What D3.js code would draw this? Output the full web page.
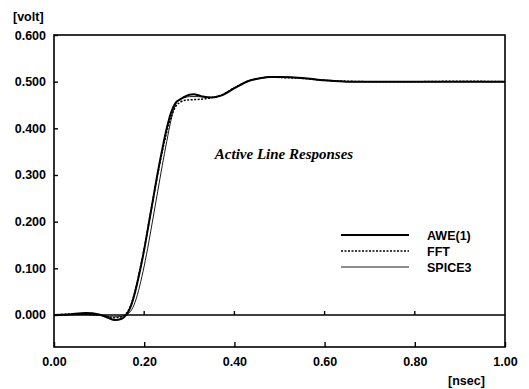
<!DOCTYPE html>
<html>
<head>
<meta charset="utf-8">
<script src="https://cdn.jsdelivr.net/npm/d3@7"></script>
<style>
  body { margin: 0; background: #fff; }
  text { font-family: "Liberation Sans", Arial, sans-serif; font-weight: bold; font-size: 12.5px; fill: #000; }
</style>
</head>
<body>
<svg id="chart" width="529" height="389"></svg>
<script>
// time in nsec, voltage in volt
const awe_t = [0, 0.03, 0.07, 0.10, 0.12, 0.135, 0.15, 0.16, 0.17, 0.18, 0.19, 0.20, 0.21, 0.22, 0.23, 0.24, 0.25, 0.26, 0.27, 0.28, 0.29, 0.30, 0.31, 0.32, 0.33, 0.35, 0.37, 0.40, 0.43, 0.46, 0.48, 0.50, 0.55, 0.60, 0.65, 0.70, 0.80, 0.90, 1.00];
const awe_v = [0, 0.001, 0.004, 0.001, -0.006, -0.011, -0.008, 0.000, 0.018, 0.050, 0.092, 0.140, 0.195, 0.250, 0.305, 0.355, 0.400, 0.435, 0.455, 0.462, 0.468, 0.472, 0.473, 0.471, 0.468, 0.466, 0.470, 0.486, 0.501, 0.508, 0.510, 0.510, 0.508, 0.503, 0.500, 0.500, 0.500, 0.500, 0.500];

const fft_t = [0, 0.05, 0.10, 0.13, 0.15, 0.16, 0.17, 0.18, 0.19, 0.20, 0.21, 0.22, 0.23, 0.24, 0.25, 0.26, 0.27, 0.28, 0.29, 0.30, 0.32, 0.35, 0.37, 0.40, 0.43, 0.46, 0.48, 0.50, 0.55, 0.60, 0.65, 0.70, 0.80, 0.90, 1.00];
const fft_v = [0, 0.002, 0.000, -0.006, -0.004, 0.003, 0.020, 0.052, 0.095, 0.142, 0.196, 0.250, 0.302, 0.350, 0.392, 0.425, 0.447, 0.456, 0.460, 0.461, 0.462, 0.466, 0.471, 0.487, 0.501, 0.508, 0.510, 0.509, 0.507, 0.503, 0.501, 0.500, 0.500, 0.501, 0.500];

const spice_t = [0, 0.05, 0.10, 0.13, 0.15, 0.16, 0.17, 0.18, 0.19, 0.20, 0.21, 0.22, 0.23, 0.24, 0.25, 0.26, 0.27, 0.28, 0.29, 0.30, 0.32, 0.35, 0.37, 0.40, 0.43, 0.46, 0.48, 0.50, 0.55, 0.60, 0.65, 0.70, 0.80, 0.90, 1.00];
const spice_v = [0, 0.001, 0.000, -0.004, -0.003, 0.000, 0.008, 0.028, 0.062, 0.105, 0.155, 0.210, 0.265, 0.320, 0.372, 0.420, 0.452, 0.463, 0.466, 0.468, 0.468, 0.466, 0.470, 0.487, 0.501, 0.508, 0.510, 0.510, 0.508, 0.503, 0.500, 0.500, 0.500, 0.500, 0.500];

const xTicks = [0, 0.2, 0.4, 0.6, 0.8, 1.0];
const yTicks = [0, 0.1, 0.2, 0.3, 0.4, 0.5, 0.6];
const legendNames = ["AWE(1)", "FFT", "SPICE3"];

const svg = d3.select("#chart");
const margin = { top: 35, right: 24, bottom: 42, left: 54 };
const width = 529 - margin.left - margin.right;
const height = 389 - margin.top - margin.bottom;

const x = d3.scaleLinear().domain([0, 1]).range([0, width]);
const y = d3.scaleLinear().domain([-0.0686, 0.6]).range([height, 0]);

const g = svg.append("g").attr("transform", "translate(" + margin.left + "," + margin.top + ")");

// frame
g.append("rect")
  .attr("x", 0).attr("y", 0)
  .attr("width", width).attr("height", height)
  .attr("fill", "none").attr("stroke", "#000").attr("stroke-width", 1.6);

// zero line
g.append("line")
  .attr("x1", 0).attr("x2", width)
  .attr("y1", y(0)).attr("y2", y(0))
  .attr("stroke", "#000").attr("stroke-width", 1.4);

// y axis (ticks pointing inside)
const yAxis = d3.axisLeft(y).tickValues(yTicks).tickFormat(d3.format(".3f")).tickSizeInner(-4).tickSizeOuter(0).tickPadding(8);
const ya = g.append("g").call(yAxis);
ya.select(".domain").remove();
ya.selectAll("line").attr("stroke-width", 1.4);

// x axis (ticks pointing inside)
const xAxis = d3.axisBottom(x).tickValues(xTicks).tickFormat(d3.format(".2f")).tickSizeInner(-5).tickSizeOuter(0).tickPadding(10);
const xa = g.append("g").attr("transform", "translate(0," + height + ")").call(xAxis);
xa.select(".domain").remove();
xa.selectAll("line").attr("stroke-width", 1.4);
xa.selectAll("text").attr("dy", "0.71em");

// small ticks above the zero line
g.append("g").selectAll("line")
  .data(xTicks.slice(1, -1))
  .join("line")
  .attr("x1", d => x(d)).attr("x2", d => x(d))
  .attr("y1", y(0)).attr("y2", y(0) - 4)
  .attr("stroke", "#000").attr("stroke-width", 1.4);

g.selectAll(".tick text").style("font-family", "'Liberation Sans', Arial, sans-serif").style("font-weight", "bold").style("font-size", "12.5px");

// unit labels
svg.append("text").attr("x", 13).attr("y", 21).text("[volt]");
svg.append("text").attr("x", 448).attr("y", 385).text("[nsec]");

// title
g.append("text")
  .attr("x", x(0.51)).attr("y", y(0.335))
  .attr("text-anchor", "middle")
  .style("font-family", "'Liberation Serif', 'Times New Roman', serif")
  .style("font-style", "italic").style("font-weight", "bold").style("font-size", "15px")
  .text("Active Line Responses");

const line = d3.line().x(d => x(d[0])).y(d => y(d[1])).curve(d3.curveMonotoneX);

const series = [
  { name: legendNames[0], pts: d3.zip(awe_t, awe_v), w: 2, dash: null },
  { name: legendNames[1], pts: d3.zip(fft_t, fft_v), w: 1.5, dash: "2,1.5" },
  { name: legendNames[2], pts: d3.zip(spice_t, spice_v), w: 0.9, dash: null }
];

g.selectAll(".series")
  .data(series)
  .join("path")
  .attr("class", "series")
  .attr("d", d => line(d.pts))
  .attr("fill", "none")
  .attr("stroke", "#000")
  .attr("stroke-width", d => d.w)
  .attr("stroke-dasharray", d => d.dash);

// legend
const lg = g.append("g").attr("transform", "translate(287,200)");
const rows = lg.selectAll("g").data(series).join("g")
  .attr("transform", (d, i) => "translate(0," + (i * 16) + ")");
rows.append("line")
  .attr("x1", 0).attr("x2", 68).attr("y1", 0).attr("y2", 0)
  .attr("stroke", "#000")
  .attr("stroke-width", d => d.w)
  .attr("stroke-dasharray", d => d.dash);
rows.append("text")
  .attr("x", 86).attr("y", 4.5)
  .style("font-size", "12.5px")
  .text(d => d.name);
</script>
</body>
</html>
